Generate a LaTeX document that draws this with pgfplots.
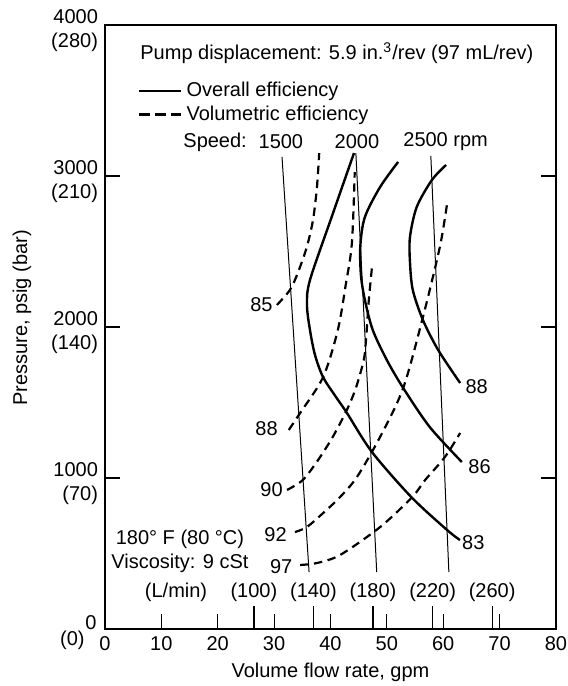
\documentclass[border=0pt]{standalone}
\usepackage{pgfplots}
\pgfplotsset{compat=1.18}
\usepackage{fontspec}
\setmainfont{Liberation Sans}

\pgfplotsset{
  overall/.style={black, line width=1.2pt, smooth, forget plot},
  vol/.style={black, line width=1.1pt, dash pattern=on 4.2pt off 2.8pt, smooth, forget plot},
  speed/.style={black, line width=0.5pt, forget plot},
}

\begin{document}
\begin{tikzpicture}[lab/.style={inner sep=0pt}]
\begin{axis}[
    at={(0pt,0pt)}, anchor=south west,
    scale only axis,
    width=225.5pt, height=302pt,
    xmin=0, xmax=80, ymin=0, ymax=4000,
    clip=false,
    axis line style={line width=0.8pt},
    tick align=inside,
    major tick length=7.5pt,
    tick style={black, line width=0.6pt},
    xtick={0,10,...,80},
    xtick pos=bottom,
    /pgf/number format/assume math mode=true,
    ytick={1000,2000,3000,4000},
    yticklabels={{1000\\(70)},{2000\\(140)},{3000\\(210)},{4000\\(280)}},
    yticklabel style={align=right, yshift=-3pt},
    extra x ticks={26.417,36.984,47.55,58.12,68.68},
    extra x tick labels={(100),(140),(180),(220),(260)},
    extra x tick style={major tick length=11.5pt, tick label style={yshift=26.5pt}},
    xlabel={Volume flow rate, gpm},
    xlabel style={at={(axis description cs:0.5,-0.0712)}, anchor=center},
    ylabel={Pressure, psig (bar)},
    ylabel style={at={(axis description cs:-0.184,0.515)}, anchor=center},
    legend style={draw=none, fill=none, at={(axis cs:5.85,3650)}, anchor=north west,
        inner sep=0pt, row sep=-1pt, cells={anchor=west}},
    legend image code/.code={\draw[#1] (0pt,0pt) -- (21pt,0pt);},
]

% legend
\addlegendimage{black, line width=0.8pt}
\addlegendentry{Overall efficiency}
\addlegendimage{black, line width=1.1pt, dash pattern=on 5.5pt off 2.5pt}
\addlegendentry{Volumetric efficiency}

% speed lines
\addplot[speed] coordinates {(31.4,3126) (36.2,377)};
\addplot[speed] coordinates {(44.5,3152) (48.2,377)};
\addplot[speed] coordinates {(57.8,3133) (61.0,377)};

% overall efficiency
\addplot[overall] coordinates {
  (44.17,3152) (40.27,2735) (36.36,2311) (35.83,2146) (36.36,1980) (37.25,1815)
  (38.67,1669) (40.98,1536) (42.93,1430) (47.36,1172) (54.33,874) (60.67,656) (62.97,589)};
\addplot[overall] coordinates {
  (52.0,3093) (48.8,2927) (46.1,2728) (45.3,2540) (45.4,2344) (46.1,2179)
  (47.5,1980) (50.0,1781) (52.9,1596) (57.6,1338) (63.3,1106)};
\addplot[overall] coordinates {
  (60.5,3073) (58.0,2974) (55.3,2795) (54.1,2596) (54.1,2430) (54.6,2245)
  (56.4,2046) (59.1,1848) (63.0,1629)};

% volumetric efficiency
\addplot[vol] coordinates {
  (30.5,2146) (32.8,2245) (34.2,2358) (35.8,2530) (36.9,2709) (37.6,2927) (38.0,3152)};
\addplot[vol] coordinates {
  (32.6,1318) (34.6,1430) (38.7,1669) (41.3,1980) (42.7,2278) (43.8,2556) (44.3,3026)};
\addplot[vol] coordinates {
  (32.3,921) (35.1,987) (37.8,1119) (40.4,1272) (42.9,1450) (44.5,1596)
  (45.9,1781) (46.3,1914) (46.8,2179) (47.4,2411)};
\addplot[vol] coordinates {
  (33.7,642) (35.8,675) (38.7,768) (41.7,874) (44.7,1007) (48.8,1272)
  (52.9,1596) (56.4,2066) (59.4,2530) (60.7,2821)};
\addplot[vol] coordinates {
  (34.6,424) (37.6,437) (41.7,490) (48.8,675) (54.5,874) (56.8,987)
  (60.3,1139) (63.0,1298)};

% texts
\node[lab, anchor=west] at (axis cs:6.21,3815) {Pump displacement: 5.9 in.\textsuperscript{3}/rev (97 mL/rev)};
\node[lab, anchor=west] at (axis cs:13.84,3225) {Speed:};
\node[lab] at (axis cs:31.2,3225) {1500};
\node[lab] at (axis cs:44.7,3225) {2000};
\node[lab, anchor=west] at (axis cs:52.86,3225) {2500 rpm};
\node[lab, align=center] at (axis cs:13.3,517) {180° F (80 °C)\\Viscosity: 9 cSt};
\node[lab] at (axis cs:12.6,245) {(L/min)};

\node[lab, anchor=east] at (axis cs:29.8,2146) {85};
\node[lab, anchor=east] at (axis cs:30.7,1330) {88};
\node[lab, anchor=east] at (axis cs:31.6,921) {90};
\node[lab, anchor=east] at (axis cs:32.3,623) {92};
\node[lab, anchor=east] at (axis cs:33.3,411) {97};
\node[lab, anchor=west] at (axis cs:63.9,1603) {88};
\node[lab, anchor=west] at (axis cs:64.4,1073) {86};
\node[lab, anchor=west] at (axis cs:63.3,570) {83};

\node[lab, anchor=east] at (axis cs:-1.42,40) {0};
\node[lab, anchor=east] at (axis cs:-3.55,-73) {(0)};
\end{axis}
\pgfresetboundingbox
\path[use as bounding box] (-52.5pt,-28.5pt) rectangle (231.5pt,314.5pt);
\end{tikzpicture}
\end{document}
